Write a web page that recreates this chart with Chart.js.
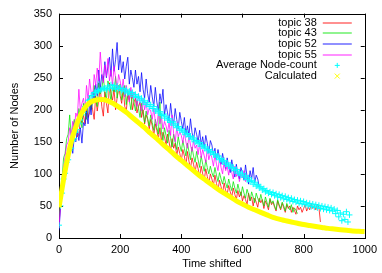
<!DOCTYPE html>
<html>
<head>
<meta charset="utf-8">
<script src="https://cdn.jsdelivr.net/npm/chart.js@4"></script>
<style>
  html, body { margin: 0; padding: 0; background: #fff; }
  #wrap { width: 382px; height: 273px; position: relative; }
</style>
</head>
<body>
<div id="wrap"><canvas id="chart"></canvas></div>
<script>
// x step of the measured series (Time shifted units)
const step = 5;
const calcStep = 20;

const labels = ["topic 38", "topic 43", "topic 52", "topic 55", "Average Node-count", "Calculated"];
const colors = ["rgba(255,0,0,0.75)", "rgba(0,230,0,0.75)", "rgba(0,0,255,0.75)", "rgba(255,0,255,0.75)", "#00ffff", "#ffff00"];

const xTicks = [0, 200, 400, 600, 800, 1000];
const yTicks = [0, 50, 100, 150, 200, 250, 300, 350];

const topic38 = [
  18, 60, 75, 98, 104, 112, 130, 138, 155, 150,
  168, 175, 158, 162, 185, 180, 192, 178, 205, 188,
  195, 212, 200, 185, 222, 198, 215, 235, 205, 190,
  228, 210, 195, 242, 225, 215, 232, 200, 218, 238,
  222, 210, 235, 205, 198, 225, 215, 230, 200, 212,
  218, 195, 205, 212, 188, 200, 178, 192, 185, 170,
  185, 175, 160, 178, 168, 155, 172, 150, 165, 158,
  145, 162, 150, 135, 155, 140, 148, 128, 142, 132,
  120, 138, 128, 112, 135, 120, 108, 125, 115, 102,
  118, 108, 95, 112, 100, 90, 108, 96, 85, 100,
  92, 82, 98, 85, 75, 90, 80, 70, 86, 74,
  68, 82, 72, 64, 78, 68, 60, 74, 64, 72,
  58, 66, 60, 52, 70, 58, 64, 50, 62, 56,
  48, 62, 55, 60, 46, 58, 52, 44, 60, 52,
  56, 48, 42, 58, 50, 44, 54, 47, 40, 52,
  46, 50, 40, 48, 43, 37, 50, 44, 48, 40,
  46, 52, 42, 48, 44, 54, 46, 51, 44, 53,
  48, 25
];

const topic43 = [
  25, 68, 92, 125, 132, 155, 162, 192, 158, 172,
  185, 165, 178, 202, 188, 172, 210, 198, 185, 215,
  222, 200, 212, 238, 215, 205, 242, 225, 232, 252,
  228, 215, 245, 235, 212, 240, 228, 252, 218, 232,
  240, 215, 225, 238, 208, 230, 215, 200, 225, 212,
  198, 215, 202, 188, 210, 195, 180, 198, 186, 175,
  192, 180, 168, 185, 172, 162, 212, 165, 152, 172,
  160, 148, 168, 155, 142, 162, 150, 138, 158, 145,
  135, 152, 140, 128, 148, 135, 122, 142, 128, 118,
  135, 122, 110, 128, 115, 104, 122, 110, 100, 112,
  102, 95, 110, 98, 88, 102, 92, 84, 96, 86,
  78, 92, 82, 74, 88, 78, 70, 84, 74, 66,
  80, 70, 62, 76, 68, 58, 72, 64, 55, 70,
  62, 56, 68, 58, 50, 64, 56, 48, 62, 54,
  58, 50, 44, 60, 52, 46, 56, 50, 42, 54,
  48, 44, 52, 40, 47, 43, 38
];

const topic52 = [
  12, 48, 85, 92, 112, 125, 118, 142, 152, 132,
  158, 150, 168, 152, 172, 148, 180, 175, 198, 178,
  212, 192, 228, 218, 240, 222, 262, 232, 255, 245,
  275, 250, 268, 282, 252, 295, 260, 278, 305, 262,
  285, 258, 275, 248, 268, 282, 240, 262, 250, 235,
  262, 240, 252, 228, 258, 232, 218, 248, 225, 212,
  238, 220, 205, 235, 212, 198, 225, 210, 232, 192,
  208, 195, 182, 210, 188, 178, 202, 185, 170, 196,
  182, 170, 188, 162, 175, 160, 186, 165, 152, 172,
  162, 150, 168, 145, 158, 140, 160, 148, 132, 152,
  145, 130, 140, 122, 138, 125, 115, 132, 118, 108,
  125, 112, 102, 122, 108, 95, 115, 100, 92, 110,
  102, 90, 114, 96, 84, 105, 92, 110, 86, 98,
  92, 80
];

const topic55 = [
  15, 55, 90, 108, 128, 145, 150, 172, 160, 182,
  170, 195, 188, 232, 198, 210, 218, 200, 238, 215,
  248, 228, 218, 255, 238, 265, 245, 290, 258, 242,
  270, 252, 280, 245, 262, 238, 268, 250, 232, 255,
  245, 230, 248, 220, 238, 225, 212, 235, 218, 228,
  220, 205, 225, 210, 198, 218, 200, 212, 192, 202,
  198, 185, 202, 182, 175, 195, 178, 190, 170, 182,
  175, 165, 180, 160, 192, 162, 150, 172, 158, 165,
  160, 148, 165, 150, 140, 160, 145, 135, 152, 140,
  145, 130, 148, 125, 138, 128, 118, 140, 122, 132,
  125, 112, 130, 115, 105, 125, 110, 100, 120, 105,
  112, 98, 115, 102, 92, 112, 96, 105, 88, 100,
  94, 105, 88, 96, 90
];

const average = [
  20, 50, 70, 92, 101, 118, 122, 137, 140, 152,
  155, 165, 169, 178, 184, 192, 196, 205, 206, 214,
  216, 222, 222, 227, 227, 229, 230, 231, 232, 233,
  234, 231, 237, 233, 239, 234, 238, 232, 237, 233,
  234, 230, 233, 228, 231, 226, 229, 224, 227, 221,
  224, 219, 221, 215, 218, 212, 214, 208, 211, 205,
  208, 202, 205, 198, 201, 195, 197, 191, 193, 187,
  190, 184, 186, 180, 182, 176, 178, 172, 174, 168,
  170, 165, 167, 161, 163, 158, 159, 154, 156, 150,
  152, 147, 149, 143, 145, 140, 142, 136, 138, 133,
  135, 130, 131, 126, 128, 122, 124, 119, 121, 115,
  117, 112, 114, 108, 110, 105, 107, 101, 103, 98,
  101, 95, 97, 91, 94, 88, 90, 84, 87, 81,
  83, 78, 80, 75, 77, 72, 74, 70, 72, 68,
  71, 66, 69, 64, 68, 63, 66, 61, 65, 60,
  63, 58, 62, 57, 60, 56, 59, 54, 58, 53,
  57, 52, 55, 50, 54, 49, 53, 48, 52, 47,
  51, 46, 50, 45, 49, 44, 48, 43, 47, 42,
  45, 38, 43, 33, 39, 27, 37, 29, 41, 25,
  36
];

const calculated = [
  48, 105, 150, 180, 200, 211, 215, 216, 214, 209,
  203, 196, 188, 180, 172, 163, 155, 146, 138, 129,
  121, 113, 105, 97, 90, 83, 76, 70, 64, 58,
  53, 48, 44, 40, 36, 32, 29.5, 27, 25, 23,
  21, 19.5, 18, 16.5, 15, 14, 13, 12, 11, 10.5,
  10
];

function toPoints(vals, dx) {
  return vals.map((v, i) => ({ x: i * dx, y: v }));
}

const FONT = "'Liberation Sans', Arial, Helvetica, sans-serif";

// gnuplot style frame with inward ticks on all four sides
const framePlugin = {
  id: "frame",
  beforeDatasetsDraw(chart) {
    const { ctx, chartArea: a, scales } = chart;
    ctx.save();
    ctx.strokeStyle = "#000";
    ctx.lineWidth = 1;
    ctx.strokeRect(Math.round(a.left) + 0.5, Math.round(a.top) + 0.5,
      Math.round(a.right - a.left), Math.round(a.bottom - a.top));
    ctx.beginPath();
    const len = 4;
    xTicks.forEach((t) => {
      const x = Math.round(scales.x.getPixelForValue(t)) + 0.5;
      ctx.moveTo(x, a.bottom); ctx.lineTo(x, a.bottom - len);
      ctx.moveTo(x, a.top); ctx.lineTo(x, a.top + len);
    });
    yTicks.forEach((t) => {
      const y = Math.round(scales.y.getPixelForValue(t)) + 0.5;
      ctx.moveTo(a.left, y); ctx.lineTo(a.left + len, y);
      ctx.moveTo(a.right, y); ctx.lineTo(a.right - len, y);
    });
    ctx.stroke();
    ctx.restore();
  }
};

// legend in the top right corner: text right-aligned, sample to its right
const keyPlugin = {
  id: "key",
  afterDraw(chart) {
    const { ctx, chartArea: a } = chart;
    ctx.save();
    ctx.font = "11px " + FONT;
    ctx.textAlign = "right";
    ctx.textBaseline = "middle";
    const textRight = a.right - 48;
    const sx0 = a.right - 42, sx1 = a.right - 13, sxm = (sx0 + sx1) / 2;
    labels.forEach((lab, i) => {
      const y = a.top + 9 + i * 10.7;
      ctx.fillStyle = "#000";
      ctx.fillText(lab, textRight, y);
      ctx.lineWidth = 1;
      ctx.beginPath();
      if (i < 4) {
        ctx.strokeStyle = colors[i].replace("0.75", "0.55");
        ctx.lineWidth = 1.6;
        ctx.moveTo(sx0, Math.round(y));
        ctx.lineTo(sx1, Math.round(y));
      } else if (i === 4) {
        ctx.strokeStyle = colors[i];
        ctx.moveTo(sxm - 2.5, y); ctx.lineTo(sxm + 2.5, y);
        ctx.moveTo(sxm, y - 2.5); ctx.lineTo(sxm, y + 2.5);
      } else {
        ctx.strokeStyle = colors[i];
        ctx.moveTo(sxm - 2.5, y - 2.5); ctx.lineTo(sxm + 2.5, y + 2.5);
        ctx.moveTo(sxm - 2.5, y + 2.5); ctx.lineTo(sxm + 2.5, y - 2.5);
      }
      ctx.stroke();
    });
    ctx.restore();
  }
};

function lineSet(i, vals) {
  return {
    label: labels[i],
    data: toPoints(vals, step),
    borderColor: colors[i],
    borderWidth: 1,
    pointRadius: 0,
    fill: false,
    tension: 0,
    order: 10 - i
  };
}

new Chart(document.getElementById("chart"), {
  type: "line",
  data: {
    datasets: [
      lineSet(0, topic38),
      lineSet(1, topic43),
      lineSet(2, topic52),
      lineSet(3, topic55),
      {
        label: labels[4],
        data: toPoints(average, step),
        showLine: false,
        pointStyle: "cross",
        pointRadius: 3,
        pointBorderWidth: 1,
        pointBorderColor: colors[4],
        borderColor: colors[4],
        order: 1
      },
      {
        label: labels[5],
        data: toPoints(calculated, calcStep),
        borderColor: colors[5],
        borderWidth: 5,
        pointRadius: 0,
        cubicInterpolationMode: "monotone",
        fill: false,
        order: 0
      }
    ]
  },
  options: {
    responsive: true,
    maintainAspectRatio: false,
    animation: false,
    events: [],
    layout: { padding: { top: 13, right: 16, bottom: 2, left: 0 } },
    plugins: { legend: { display: false }, tooltip: { enabled: false } },
    scales: {
      x: {
        type: "linear",
        min: 0,
        max: 1000,
        afterFit(scale) { scale.height = 33; },
        afterBuildTicks(scale) { scale.ticks = xTicks.map((v) => ({ value: v })); },
        ticks: { color: "#000", font: { size: 11, family: FONT }, padding: 5, maxRotation: 0, callback: (v) => String(v) },
        grid: { display: false, drawTicks: false },
        border: { display: false },
        title: { display: true, text: "Time shifted", color: "#000", font: { size: 11, family: FONT }, padding: 0 }
      },
      y: {
        type: "linear",
        min: 0,
        max: 350,
        afterFit(scale) { scale.width = 59; },
        afterBuildTicks(scale) { scale.ticks = yTicks.map((v) => ({ value: v })); },
        ticks: { color: "#000", font: { size: 11, family: FONT }, padding: 7, callback: (v) => String(v) },
        grid: { display: false, drawTicks: false },
        border: { display: false },
        title: { display: true, text: "Number of Nodes", color: "#000", font: { size: 11, family: FONT }, padding: { top: 8, bottom: 0 } }
      }
    }
  },
  plugins: [framePlugin, keyPlugin]
});
</script>
</body>
</html>
